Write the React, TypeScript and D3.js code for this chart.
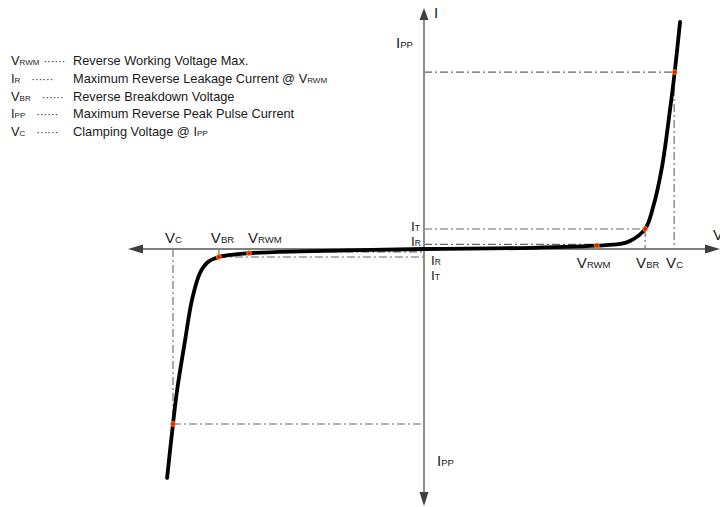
import * as d3 from "d3";

const W = 720;
const H = 507;

// I-V curve, arbitrary units (V to the right, I upwards)
const curveV = [-8.68, -8.48, -8.34, -8.07, -7.84, -7.57, -7.3, -6.93, -6.45, -5.91, -4.19, 0, 3.24, 5.84, 6.62, 6.96, 7.47, 7.74, 8.04, 8.31, 8.47, 8.65];
const curveI = [-9.5, -7.26, -5.85, -3.78, -2.12, -1.0, -0.54, -0.33, -0.23, -0.17, -0.1, 0, 0.04, 0.14, 0.21, 0.33, 0.83, 1.74, 3.4, 5.77, 7.34, 9.42];

// red marks: VC, VBR, VRWM on the negative side then the positive side
const markV = [-8.48, -6.93, -5.91, 5.84, 7.47, 8.47];
const markI = [-7.26, -0.33, -0.17, 0.14, 0.83, 7.34];

// reference levels
const vcPos = 8.45, vbrPos = 7.47, vrwmPos = 5.84;
const ippPos = 7.34, itPos = 0.83, irPos = 0.19;
const vcNeg = -8.48, vbrNeg = -6.93, vrwmNeg = -5.91;
const ippNeg = -7.26, itNeg = -0.33, irNeg = -0.12;

// axis extents
const xAxisMin = -10, xAxisMax = 10;
const yAxisMin = -10.66, yAxisMax = 10;

// legend
const legendSym = ["V", "I", "V", "I", "V"];
const legendSub = ["RWM", "R", "BR", "PP", "C"];
const legendText = [
  "Reverse Working Voltage Max.",
  "Maximum Reverse Leakage Current @ ",
  "Reverse Breakdown Voltage",
  "Maximum Reverse Peak Pulse Current",
  "Clamping Voltage @ ",
];
const legendTailSym = ["", "V", "", "", "I"];
const legendTailSub = ["", "RWM", "", "", "PP"];

const FONT = "'Liberation Sans', Arial, sans-serif";
const DASH = "8,3,2,3";

function Lbl({ x, y, main, sub, size = 15, subSize = 9.5 }: any) {
  return (
    <text x={x} y={y} fontSize={size} fill="#1a1a1a">
      {main}
      <tspan fontSize={subSize}>{sub}</tspan>
    </text>
  );
}

export default function App() {
  const x = d3.scaleLinear().domain([-10, 10]).range([128, 720]);
  const y = d3.scaleLinear().domain([-10, 10]).range([490, 8]);
  const x0 = x(0);
  const y0 = y(0);

  const pts = curveV.map((v, i) => [v, curveI[i]] as [number, number]);
  const line = d3
    .line<[number, number]>()
    .x((d) => x(d[0]))
    .y((d) => y(d[1]))
    .curve(d3.curveCatmullRom.alpha(0.5));

  const refs: [number, number][][] = [
    [[0, ippPos], [vcPos, ippPos]],
    [[vcPos, ippPos], [vcPos, 0]],
    [[0, itPos], [vbrPos, itPos]],
    [[vbrPos, itPos], [vbrPos, 0]],
    [[0, irPos], [vrwmPos, irPos]],
    [[vcNeg, 0], [vcNeg, ippNeg]],
    [[vcNeg, ippNeg], [0, ippNeg]],
    [[vbrNeg, itNeg], [0, itNeg]],
    [[vbrNeg, 0], [vbrNeg, itNeg]],
    [[vrwmNeg, irNeg], [0, irNeg]],
  ];

  const xl = x(xAxisMin), xr = x(xAxisMax);
  const yt = y(yAxisMax), yb = y(yAxisMin);
  const ah = 15, aw = 4.5;

  return (
    <svg
      width={W}
      height={H}
      style={{ position: "absolute", left: 0, top: 0, background: "#fff" }}
      fontFamily={FONT}
    >
      {/* reference lines */}
      {refs.map((s, i) => (
        <line
          key={i}
          x1={x(s[0][0])}
          y1={y(s[0][1])}
          x2={x(s[1][0])}
          y2={y(s[1][1])}
          stroke="#666"
          strokeWidth={1.1}
          strokeDasharray={DASH}
        />
      ))}

      {/* axes */}
      <line x1={xl + 10} y1={y0} x2={xr - 10} y2={y0} stroke="#808080" strokeWidth={1.8} />
      <line x1={x0} y1={yt + 10} x2={x0} y2={yb - 10} stroke="#808080" strokeWidth={1.8} />
      <path d={`M${xr},${y0}L${xr - ah},${y0 - aw}L${xr - ah},${y0 + aw}Z`} fill="#404040" />
      <path d={`M${xl},${y0}L${xl + ah},${y0 - aw}L${xl + ah},${y0 + aw}Z`} fill="#404040" />
      <path d={`M${x0},${yt}L${x0 - aw},${yt + ah - 3}L${x0 + aw},${yt + ah - 3}Z`} fill="#404040" />
      <path d={`M${x0},${yb}L${x0 - aw},${yb - ah + 1}L${x0 + aw},${yb - ah + 1}Z`} fill="#404040" />

      {/* curve */}
      <path d={line(pts) ?? ""} fill="none" stroke="#000" strokeWidth={3.8} strokeLinecap="round" />

      {markV.map((v, i) => (
        <circle key={i} cx={x(v)} cy={y(markI[i])} r={2.4} fill="#e8140c" stroke="#f7a21b" strokeWidth={0.9} />
      ))}

      {/* axis labels */}
      <text x={xr - 7} y={y0 - 9} fontSize={15} fill="#1a1a1a">V</text>
      <text x={x0 + 10} y={yt + 10} fontSize={15} fill="#1a1a1a">I</text>
      <Lbl x={x0 - 28} y={y(ippPos) - 24} main="I" sub="PP" />
      <Lbl x={x0 + 13} y={y(ippNeg) + 42} main="I" sub="PP" />

      <Lbl x={x(vrwmPos) - 20} y={y0 + 19} main="V" sub="RWM" />
      <Lbl x={x(vbrPos) - 9} y={y0 + 19} main="V" sub="BR" />
      <Lbl x={x(vcPos) - 8} y={y0 + 19} main="V" sub="C" />

      <Lbl x={x(vcNeg) - 8} y={y0 - 6} main="V" sub="C" />
      <Lbl x={x(vbrNeg) - 8} y={y0 - 6} main="V" sub="BR" />
      <Lbl x={x(vrwmNeg) - 1} y={y0 - 6} main="V" sub="RWM" />

      <Lbl x={x0 - 13} y={y(itPos) + 2} main="I" sub="T" size={13.5} subSize={8.5} />
      <Lbl x={x0 - 13} y={y0 - 3} main="I" sub="R" size={13.5} subSize={8.5} />
      <Lbl x={x0 + 7} y={y0 + 16} main="I" sub="R" size={13.5} subSize={8.5} />
      <Lbl x={x0 + 7} y={y0 + 31} main="I" sub="T" size={13.5} subSize={8.5} />

      {/* legend */}
      {legendSym.map((s, i) => (
        <g key={i} fontSize={12.8} fill="#1a1a1a">
          <text x={11} y={65 + i * 17.8}>
            {s}
            <tspan fontSize={8}>{legendSub[i]}</tspan>
            <tspan dx={i === 0 ? 4 : 11} fontSize={11}>······</tspan>
          </text>
          <text x={73} y={65 + i * 17.8}>
            {legendText[i]}
            {legendTailSym[i]}
            <tspan fontSize={8}>{legendTailSub[i]}</tspan>
          </text>
        </g>
      ))}
    </svg>
  );
}
